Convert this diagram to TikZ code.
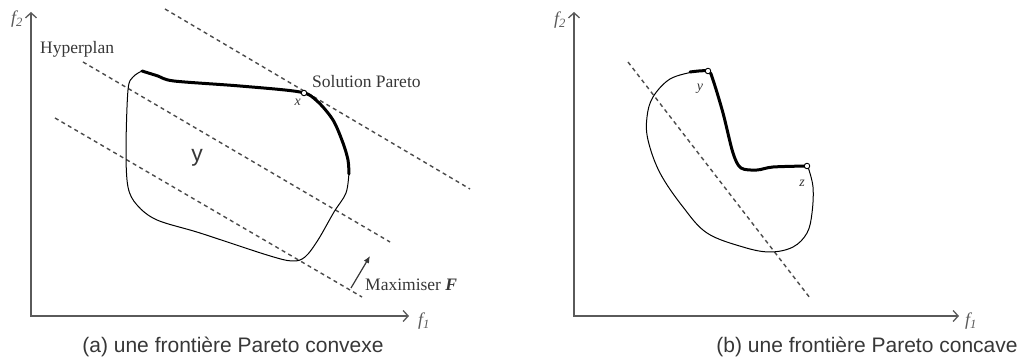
\documentclass[tikz,border=0pt]{standalone}
\usepackage{fontspec}
\setmainfont{Liberation Serif}
\newfontfamily\capfont{Liberation Sans}
\definecolor{AxisGray}{RGB}{90,90,90}
\definecolor{DashGray}{RGB}{75,75,75}
\definecolor{TextGray}{RGB}{55,55,55}
\usetikzlibrary{arrows.meta}

\begin{document}
\begin{tikzpicture}[x=1pt,y=-1pt,
  axis/.style={AxisGray,line width=1.3pt,
    {Straight Barb[length=5pt,width=11pt]}-{Straight Barb[length=5pt,width=11pt]}},
  hyper/.style={DashGray,line width=1.4pt,dash pattern=on 4pt off 3.5pt},
  outline/.style={black,line width=1pt},
  front/.style={black,line width=3pt,line cap=round,line join=round},
  solpt/.style={circle,draw=black,fill=white,line width=0.9pt,
    inner sep=0pt,minimum size=5.5pt},
  lab/.style={font=\fontsize{17.5}{20}\selectfont,text=TextGray,inner sep=0pt},
  axlab/.style={font=\fontsize{18}{20}\selectfont\itshape,text=AxisGray,inner sep=0pt},
  ptlab/.style={font=\fontsize{14}{16}\selectfont\itshape,text=TextGray,inner sep=0pt},
  caption/.style={font=\capfont\fontsize{21}{25}\selectfont,text=TextGray,inner sep=0pt}]
  \useasboundingbox (0,0) rectangle (1021,363);

  %% ---------------- (a) convex front ----------------
  %% Axes
  \coordinate (Ao) at (31,316);
  \coordinate (Ay) at (31,12);
  \coordinate (Ax) at (409,316);
  \draw[axis] (Ay) -- (Ao) -- (Ax);
  \node[axlab] (af2) at (17,19) {f\textsubscript{2}};
  \node[axlab] (af1) at (424,321) {f\textsubscript{1}};
  %% Hyperplanes (parallel dashed lines)
  \coordinate (h1s) at (165,9);   \coordinate (h1e) at (470,189);
  \coordinate (h2s) at (83,62);   \coordinate (h2e) at (390,242);
  \coordinate (h3s) at (55,118);  \coordinate (h3e) at (362,297);
  \draw[hyper] (h1s) -- (h1e);
  \draw[hyper] (h2s) -- (h2e);
  \draw[hyper] (h3s) -- (h3e);
  %% Feasible region: thin outline
  \draw[outline] plot[smooth,tension=0.55] coordinates
    {(349,172) (346,193) (334,212) (318,240) (305,257) (292,261)
     (267,255) (200,233) (157,220) (137,205) (128,187) (126,150)
     (128,90) (133,77) (142,71)};
  %% Pareto front: thick
  \draw[front] plot[smooth,tension=0.5] coordinates
    {(142,71) (158,76) (174,81) (240,86) (300,92) (317,101)
     (333,120) (343,143) (348,160) (349,174)};
  \node[solpt] (ptx) at (304,93) {};
  \node[ptlab,anchor=north east] (labx) at (301,99) {x};
  \node[font=\capfont\fontsize{23}{26}\selectfont,text=TextGray] (regY) at (197,158) {y};
  %% Labels
  \node[lab,anchor=west] (hyperplan) at (40,49) {Hyperplan};
  \node[lab,anchor=west] (solpareto) at (312,82) {Solution Pareto};
  \coordinate (maxtail) at (351,288);
  \coordinate (maxhead) at (370,256);
  \draw[TextGray,line width=1.2pt,-{Latex[length=7pt,width=6pt]}]
       (maxtail) -- (maxhead);
  \node[lab,anchor=west] (maxF) at (365,285)
       {Maximiser \textbf{\textit{F}}};
  \node[caption] (capA) at (233,347) {(a) une frontière Pareto convexe};

  %% ---------------- (b) concave front ----------------
  %% Axes
  \coordinate (Bo) at (574,316);
  \coordinate (By) at (574,12);
  \coordinate (Bx) at (959,316);
  \draw[axis] (By) -- (Bo) -- (Bx);
  \node[axlab] (bf2) at (560,20) {f\textsubscript{2}};
  \node[axlab] (bf1) at (971,321) {f\textsubscript{1}};
  %% Hyperplane
  \coordinate (hbs) at (628,62);  \coordinate (hbe) at (810,298);
  \draw[hyper] (hbs) -- (hbe);
  %% Feasible region: thin outline
  \draw[outline] plot[smooth,tension=0.6] coordinates
    {(693,72) (670,79) (653,97) (647,117) (648,140) (660,173)
     (683,207) (707,233) (743,247) (770,252) (793,247) (807,233)
     (812,213) (813,187) (808,167)};
  %% Pareto front: thick
  \draw[front] plot[smooth,tension=0.5] coordinates
    {(690,72) (708,71) (713,80) (723,113) (733,153) (741,168)
     (757,170) (773,167) (807,166)};
  \node[solpt] (pty) at (708,71) {};
  \node[solpt] (ptz) at (807,166) {};
  \node[ptlab] (laby) at (700,89) {y};
  \node[ptlab] (labz) at (802,183) {z};
  \node[caption] (capB) at (867,347) {(b) une frontière Pareto concave};
\end{tikzpicture}
\end{document}
